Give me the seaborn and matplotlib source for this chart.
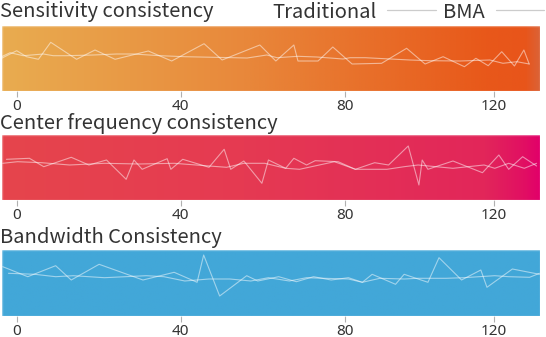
import numpy as np
import pandas as pd
import matplotlib
matplotlib.use("Agg")
import matplotlib.pyplot as plt
from matplotlib.colors import LinearSegmentedColormap
from matplotlib.lines import Line2D
import seaborn as sns

sns.set_theme(style="white")
plt.rcParams['font.family'] = ['Noto Sans CJK SC', 'DejaVu Sans']

titles = ["Sensitivity consistency", "Center frequency consistency", "Bandwidth Consistency"]
series_names = ["Traditional", "BMA"]
tick_labels = ["0", "40", "80", "120"]
tick_pos = [0, 40, 80, 116.3]

# Panel 1: Sensitivity consistency
sens_trad_x = [-3.7, 0, 2.4, 5.3, 8.3, 14.6, 19.1, 24.0, 32.1, 37.8, 45.7, 50.1, 59.3, 63.2, 67.6, 68.6,
               73.5, 77.1, 81.8, 89.0, 95.1, 99.6, 104.0, 109.2, 112.0, 115.0, 118.3, 121.4, 123.7, 125.0]
sens_trad_y = [32.7, 40.3, 34.3, 31.7, 48.7, 31.7, 41, 31.7, 40, 30, 47.3, 31, 46, 30, 46, 30,
               30, 44, 27, 27.7, 42.7, 27, 34.3, 24.3, 32.7, 25.3, 39.3, 25, 41, 27]
sens_bma_x = [-3.7, -1.6, 1.6, 6.5, 8.9, 12.2, 18.7, 24.4, 28.4, 35.0, 41.0, 56.2, 61.0, 63.5, 68.6,
              73.2, 79.6, 81.3, 85.0, 87.8, 95.9, 100.8, 108.1, 115.4, 118.6, 122.0, 125.0]
sens_bma_y = [34.3, 38.3, 35.3, 37, 35.3, 35.3, 36, 37, 37, 35.3, 34.3, 33, 36, 33.3, 34.7,
              34, 32, 33.3, 33.3, 32.7, 31, 30.3, 30, 31, 27.7, 29.3, 27]

# Panel 2: Center frequency consistency
freq_trad_x = [-2.5, 3.1, 6.6, 13.3, 17.6, 21.9, 26.7, 28.6, 30.6, 36.7, 37.6, 40.5, 46.9, 50.6, 52.2,
               55.4, 59.8, 61.4, 65.6, 67.6, 70.7, 72.8, 78.4, 82.6, 87.3, 90.7, 95.5, 98.1, 98.9,
               100.3, 106.4, 113.6, 117.6, 120.0, 123.4, 126.8]
freq_trad_y = [40.7, 41.7, 33.3, 42.7, 35, 40, 20.7, 40, 30.7, 41.3, 30.7, 40.7, 32.7, 50.7, 30.7,
               39, 16.7, 40, 31.7, 41.7, 35, 39.3, 38.3, 30.7, 37.3, 35, 54, 15, 40,
               30.7, 39, 27.3, 45, 30.7, 43.3, 34]
freq_bma_x = [-3.4, 0.2, 6.1, 12.9, 21.4, 29.9, 38.4, 46.9, 51.2, 55.4, 60.5, 65.6, 69.0, 77.5, 82.6,
              86.0, 90.3, 94.5, 97.9, 106.4, 114.0, 116.6, 120.0, 123.8, 126.8]
freq_bma_y = [36.7, 38.3, 37.3, 35, 36.7, 36, 36.7, 34, 32.7, 36.7, 36.7, 31.7, 30.7, 38.3, 30.7,
              30.7, 30.7, 33.3, 35, 31.7, 35, 31.7, 36.7, 31.7, 36.7]

# Panel 3: Bandwidth Consistency
band_trad_x = [-3.4, 2.7, 9.5, 13.3, 20.1, 30.8, 38.4, 44.0, 45.6, 49.5, 56.1, 58.8, 63.9, 68.2,
               72.4, 76.7, 80.9, 84.3, 86.7, 92.4, 94.5, 100.3, 103.0, 108.5, 113.2, 114.7, 120.9, 127.5]
band_trad_y = [49.3, 39.3, 50.3, 36, 51.7, 36, 43.7, 33.7, 61, 20, 40.3, 35, 39.3, 34.3,
               39.3, 36, 38.3, 33.7, 41.7, 31.7, 41.7, 33.7, 58.3, 36, 46, 28.7, 47, 41.7]
band_bma_x = [-2.0, 4.4, 9.5, 13.8, 21.4, 26.5, 31.6, 35.9, 41.0, 46.9, 52.0, 57.1, 61.4, 66.5,
              70.7, 75.0, 80.9, 84.3, 88.6, 94.5, 97.9, 104.7, 109.0, 116.6, 120.0, 125.1, 127.5]
band_bma_y = [42.7, 41.7, 39.3, 40.3, 38.3, 39.3, 40.3, 39.3, 35, 37, 37, 35, 38.3, 35,
              38.3, 37.7, 37, 33.7, 37.7, 37, 37.7, 37.7, 38.3, 40.3, 39.3, 38.7, 42.7]

panels = [
    (sens_trad_x, sens_trad_y, sens_bma_x, sens_bma_y),
    (freq_trad_x, freq_trad_y, freq_bma_x, freq_bma_y),
    (band_trad_x, band_trad_y, band_bma_x, band_bma_y),
]
gradients = [
    ["#E9AC50", "#E8883B", "#E8581A", "#E8551A", "#DC6236"],
    ["#E6454C", "#E53A52", "#E2265A", "#E10E63", "#E2006A"],
    ["#42A7D8", "#42A7D8", "#42A7D8", "#42A7D8", "#42A7D8"],
]
grad_stops = [0.0, 0.45, 0.9, 0.975, 1.0]

W, H = 546, 337
fig = plt.figure(figsize=(W / 100, H / 100), dpi=100)
fig.patch.set_facecolor("white")

boxes = [(25.5, 91), (135, 200), (250, 316)]
title_y = [12, 123, 238]
px_per_unit = 4.1
x0_px = 16.7
left_px, right_px = 2, 540

for i, ((tx, ty, bx, by), (top, bot)) in enumerate(zip(panels, boxes)):
    ax = fig.add_axes([left_px / W, 1 - bot / H, (right_px - left_px) / W, (bot - top) / H])
    cmap = LinearSegmentedColormap.from_list(f"g{i}", list(zip(grad_stops, gradients[i])))
    ax.imshow(np.linspace(0, 1, 512)[None, :], aspect="auto", cmap=cmap,
              extent=[0, 1, 0, 1], transform=ax.transAxes, zorder=0)
    df = pd.concat([
        pd.DataFrame({"x": tx, "y": ty, "s": series_names[0]}),
        pd.DataFrame({"x": bx, "y": by, "s": series_names[1]}),
    ])
    for name in series_names:
        sub = df[df.s == name]
        sns.lineplot(data=sub, x="x", y="y", ax=ax, color="white", alpha=0.5,
                     linewidth=0.8, estimator=None, sort=False, legend=False, zorder=2)
    ax.set_xlim((left_px - x0_px) / px_per_unit, (right_px - x0_px) / px_per_unit)
    ax.set_ylim(0, bot - top)
    ax.set_xticks(tick_pos)
    ax.set_xticklabels(tick_labels, family=["Noto Sans", "DejaVu Sans"])
    ax.set_yticks([])
    ax.set_xlabel("")
    ax.set_ylabel("")
    ax.tick_params(axis="x", bottom=True, length=4.5, width=0.8, color="#b0b0b0",
                   labelsize=11, labelcolor="#333333", pad=1)
    for sp in ax.spines.values():
        sp.set_color((1, 1, 1, 0.35))
        sp.set_linewidth(1.0)
    fig.text(0.0, 1 - title_y[i] / H, titles[i], fontsize=14.5, color="#333333",
             ha="left", va="center")

handles = [Line2D([], [], color="#cccccc", lw=0.9) for _ in series_names]
fig.legend(handles, series_names, loc="center right", bbox_to_anchor=(1.0, 1 - 12 / H),
           ncol=2, frameon=False, markerfirst=False, handlelength=2.4,
           handletextpad=0.55, columnspacing=0.35, borderaxespad=0, borderpad=0.1,
           labelcolor="#333333", prop={"size": 14.5})

fig.savefig("out.png", dpi=100)
